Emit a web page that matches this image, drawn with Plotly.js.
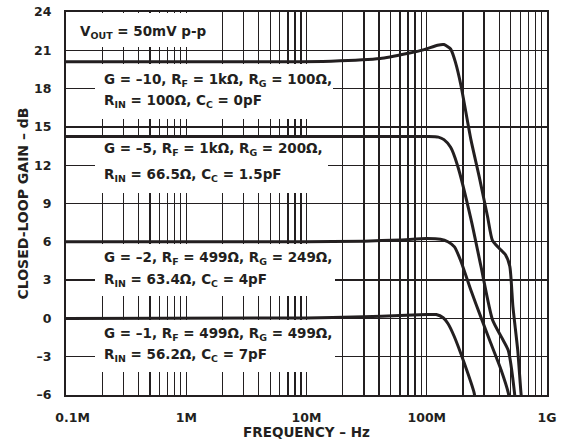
<!DOCTYPE html>
<html><head><meta charset="utf-8">
<script src="https://cdn.plot.ly/plotly-3.0.1.min.js"></script>
<style>html,body{margin:0;padding:0;background:#fff}#chart{width:564px;height:440px}</style>
</head><body><div id="chart"></div>
<script>
// G = -10 curve
const freqG10 = [1e5, 1e6, 5e6, 1.6e7, 4.1e7, 6.9e7, 9.5e7, 1.23e8, 1.39e8, 1.58e8, 1.74e8, 1.92e8, 2.33e8, 2.73e8, 3.2e8, 3.52e8, 4.0e8, 4.5e8, 4.9e8, 5.21e8, 5.71e8, 6.07e8, 6.2e8];
const gainG10 = [20.1, 20.1, 20.1, 20.15, 20.35, 20.75, 21.05, 21.4, 21.45, 21.1, 20.0, 18.3, 14.0, 11.1, 8.0, 6.1, 5.5, 5.0, 4.1, 0.9, -2.5, -5.8, -6.6];
// G = -5 curve
const freqG5 = [1e5, 1e7, 1e8, 1.25e8, 1.39e8, 1.58e8, 1.8e8, 2.33e8, 2.82e8, 3.52e8, 4.23e8, 4.76e8, 5.37e8, 5.45e8];
const gainG5 = [14.25, 14.25, 14.25, 14.2, 14.0, 13.4, 12.0, 7.8, 4.1, -0.1, -1.55, -2.5, -5.85, -6.6];
// G = -2 curve
const freqG2 = [1e5, 1e7, 3e7, 6e7, 1e8, 1.3e8, 1.5e8, 1.7e8, 1.92e8, 2.33e8, 2.82e8, 3.41e8, 4.14e8, 4.77e8, 4.9e8];
const gainG2 = [6.0, 6.0, 6.05, 6.15, 6.25, 6.2, 6.0, 5.6, 4.5, 2.2, 0.1, -1.95, -4.0, -5.85, -6.6];
// G = -1 curve
const freqG1 = [1e5, 1e7, 3e7, 6e7, 1e8, 1.2e8, 1.37e8, 1.5e8, 1.69e8, 2.05e8, 2.48e8, 2.55e8];
const gainG1 = [0, 0.03, 0.12, 0.22, 0.3, 0.3, 0.05, -0.4, -1.4, -3.5, -5.85, -6.6];

const xTickVals = [1e5, 1e6, 1e7, 1e8, 1e9];
const xTickText = ['\u00a0\u00a0\u00a00.1M', '1M', '10M', '100M', '1G'];
const xMinorVals = [2e5,3e5,4e5,5e5,6e5,7e5,8e5,9e5,
  2e6,3e6,4e6,5e6,6e6,7e6,8e6,9e6,
  2e7,3e7,4e7,5e7,6e7,7e7,8e7,9e7,
  2e8,3e8,4e8,5e8,6e8,7e8,8e8,9e8];
const yTickVals = [-6,-3,0,3,6,9,12,15,18,21,24];
const yTickText = ['–6','–3','0','3','6','9','12','15','18','21','24'];

const noteLines = [
  'V<sub>OUT</sub> = 50mV p-p',
  'G = –10, R<sub>F</sub> = 1kΩ, R<sub>G</sub> = 100Ω,',
  'R<sub>IN</sub> = 100Ω, C<sub>C</sub> = 0pF',
  'G = –5, R<sub>F</sub> = 1kΩ, R<sub>G</sub> = 200Ω,',
  'R<sub>IN</sub> = 66.5Ω, C<sub>C</sub> = 1.5pF',
  'G = –2, R<sub>F</sub> = 499Ω, R<sub>G</sub> = 249Ω,',
  'R<sub>IN</sub> = 63.4Ω, C<sub>C</sub> = 4pF',
  'G = –1, R<sub>F</sub> = 499Ω, R<sub>G</sub> = 499Ω,',
  'R<sub>IN</sub> = 56.2Ω, C<sub>C</sub> = 7pF'
];

const ink = '#231f20';
const FONT = 'DejaVu Sans, Verdana, sans-serif';
const series = [[freqG10, gainG10], [freqG5, gainG5], [freqG2, gainG2], [freqG1, gainG1]];
const traces = series.map(s => ({
  x: s[0], y: s[1], type: 'scatter', mode: 'lines',
  line: {color: ink, width: 3, shape: 'spline', smoothing: 0.6},
  hoverinfo: 'skip', showlegend: false
}));

// white panels behind the notes (hide the grid there)
function panel(x, y, w, h) {
  return {text: ' ', xref: 'paper', yref: 'paper', x: x, y: y, xanchor: 'left', yanchor: 'top',
    width: w, height: h, bgcolor: '#ffffff', borderpad: 0, borderwidth: 0, showarrow: false};
}
const panels = [
  panel(0.0021, 0.9974, 152, 34),
  panel(0.0603, 0.8655, 238, 54.5),
  panel(0.0603, 0.6705, 233, 55),
  panel(0.0603, 0.3935, 240, 52.4),
  panel(0.0603, 0.1958, 240, 52)
];

const noteX = [0.025, 0.0743, 0.0743, 0.0743, 0.0743, 0.0743, 0.0743, 0.0743, 0.0743];
const noteY = [0.948, 0.8225, 0.7676, 0.6423, 0.5744, 0.3577, 0.3003, 0.1593, 0.1044];
const notes = noteLines.map((t, i) => ({
  text: t, xref: 'paper', yref: 'paper', x: noteX[i], y: noteY[i],
  xanchor: 'left', yanchor: 'middle', showarrow: false,
  font: {family: FONT, size: 13.5, weight: 'bold', color: ink}
}));

const layout = {
  width: 564, height: 440,
  margin: {l: 66, r: 17, t: 12, b: 45},
  paper_bgcolor: '#ffffff', plot_bgcolor: '#ffffff',
  xaxis: {
    type: 'log', range: [5, 9], tickmode: 'array', tickvals: xTickVals, ticktext: xTickText,
    showgrid: true, gridcolor: ink, gridwidth: 1.3, zeroline: false,
    minor: {tickmode: 'array', tickvals: xMinorVals, showgrid: true, gridcolor: ink, gridwidth: 1.3, ticks: ''},
    showline: true, mirror: true, linecolor: ink, linewidth: 2,
    ticks: '', ticklabelstandoff: 10,
    tickfont: {family: FONT, size: 12.5, weight: 'bold', color: ink},
    title: {text: 'FREQUENCY – Hz', standoff: 6, font: {family: FONT, size: 13.5, weight: 'bold', color: ink}},
    automargin: false, fixedrange: true
  },
  yaxis: {
    range: [-6, 24], tickmode: 'array', tickvals: yTickVals, ticktext: yTickText,
    showgrid: true, gridcolor: ink, gridwidth: 1.3, zeroline: false,
    showline: true, mirror: true, linecolor: ink, linewidth: 2,
    ticks: '', ticklabelstandoff: 10,
    tickfont: {family: FONT, size: 12.5, weight: 'bold', color: ink},
    title: {text: 'CLOSED-LOOP GAIN – dB', standoff: 2, font: {family: FONT, size: 14, weight: 'bold', color: ink}},
    automargin: false, fixedrange: true
  },
  annotations: panels.concat(notes)
};

Plotly.newPlot('chart', traces, layout, {staticPlot: true, displayModeBar: false});
</script>
</body></html>
